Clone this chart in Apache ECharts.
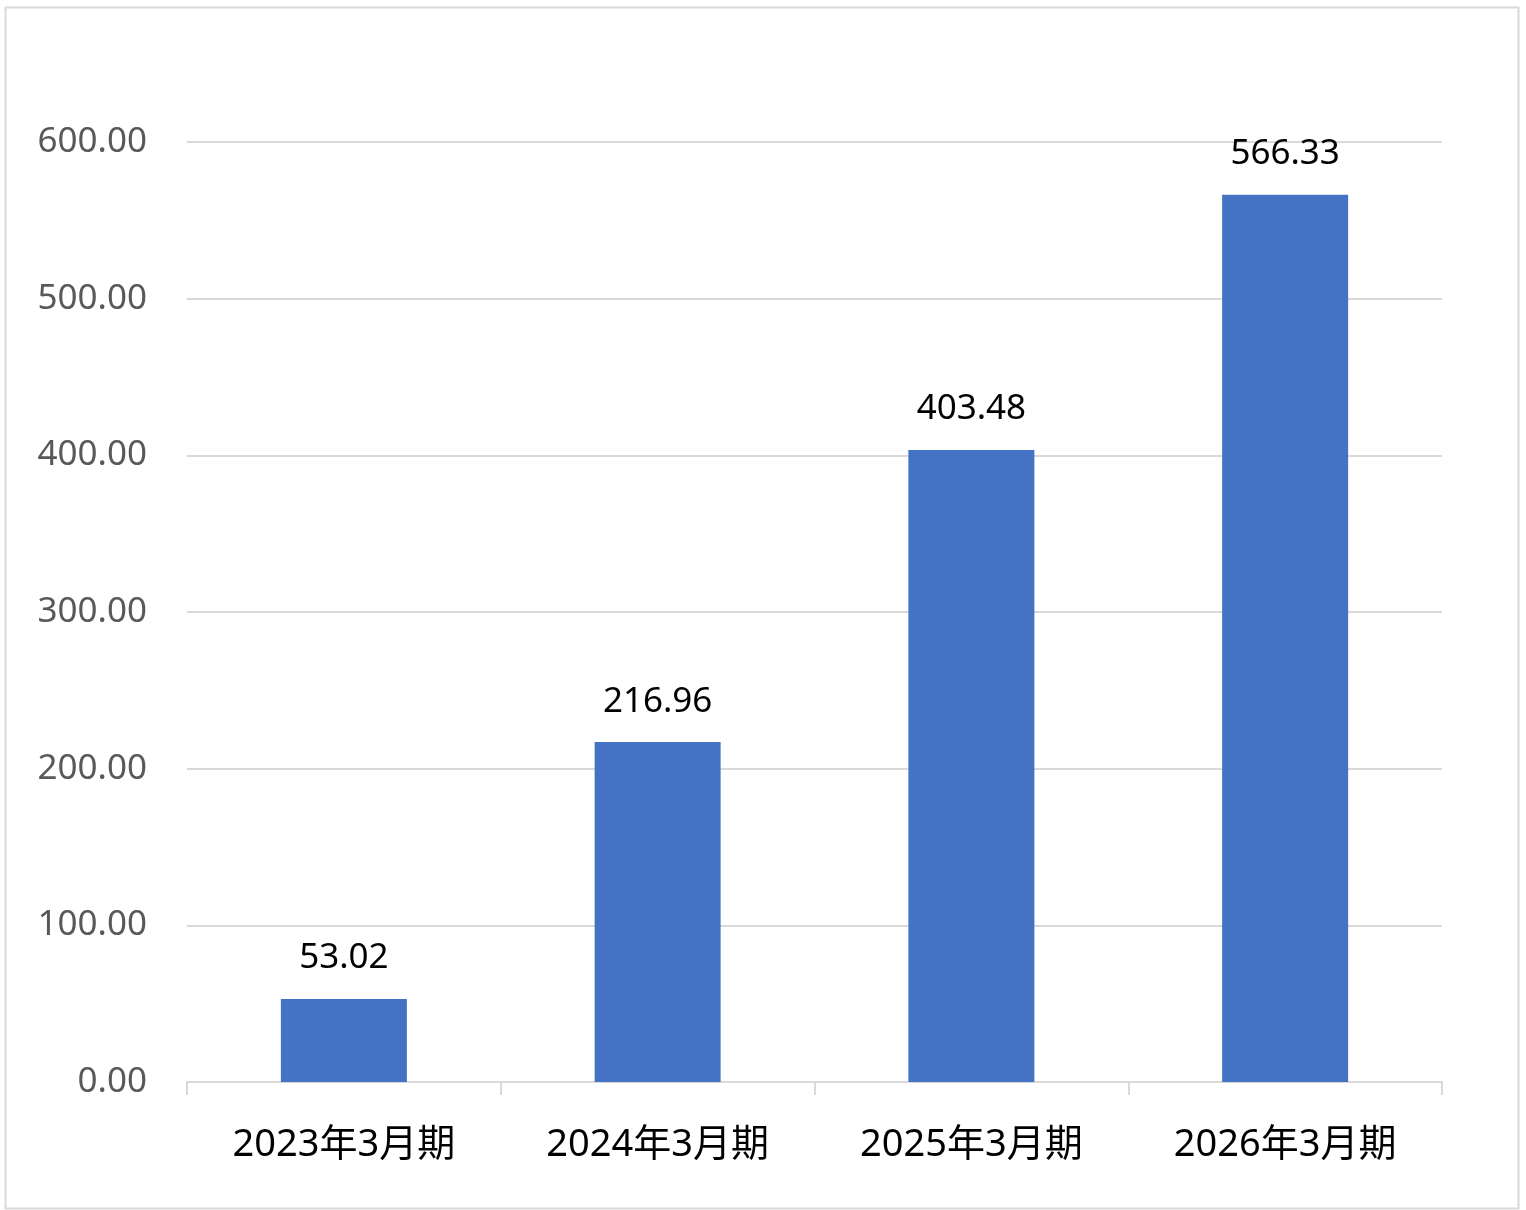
<!DOCTYPE html>
<html>
<head>
<meta charset="utf-8">
<script src="https://cdn.jsdelivr.net/npm/echarts@6/dist/echarts.min.js"></script>
<style>
html,body{margin:0;padding:0;background:#fff;}
#main{width:1526px;height:1210px;}
</style>
</head>
<body>
<div id="main"></div>
<script>
var categories = ['2023年3月期', '2024年3月期', '2025年3月期', '2026年3月期'];
var values = [53.02, 216.96, 403.48, 566.33];
var yTicks = [0, 100, 200, 300, 400, 500, 600];

var myChart = echarts.init(document.getElementById('main'));
var fontFam = '"Noto Sans", "Noto Sans CJK SC", sans-serif';
var option = {
	backgroundColor: '#fff',
	animation: false,
	graphic: [{
		type: 'rect',
		left: 3, top: 5,
		shape: {width: 1513, height: 1201},
		style: {fill: 'none', stroke: '#d9d9d9', lineWidth: 2}
	}],
	grid: {
		left: 187,
		right: 84,
		top: 142,
		bottom: 128
	},
	xAxis: {
		type: 'category',
		data: categories,
		axisLine: {lineStyle: {color: '#d9d9d9', width: 2}},
		axisTick: {show: true, length: 13, lineStyle: {color: '#d9d9d9', width: 2}},
		axisLabel: {color: '#000', fontSize: 38, fontFamily: fontFam, margin: 44}
	},
	yAxis: {
		type: 'value',
		min: yTicks[0],
		max: yTicks[yTicks.length - 1],
		interval: 100,
		axisLine: {show: false},
		axisTick: {show: false},
		splitLine: {lineStyle: {color: '#d9d9d9', width: 2}},
		axisLabel: {
			color: '#595959', fontSize: 35, fontFamily: fontFam, margin: 40,
			formatter: function (v) { return v.toFixed(2); }
		}
	},
	series: [{
		type: 'bar',
		data: values,
		barWidth: 126,
		itemStyle: {color: '#4472c4'},
		label: {
			show: true,
			position: 'top',
			distance: 23,
			color: '#000',
			fontSize: 35,
			fontFamily: fontFam,
			formatter: function (p) { return p.value.toFixed(2); }
		}
	}]
};
myChart.setOption(option);
</script>
</body>
</html>
